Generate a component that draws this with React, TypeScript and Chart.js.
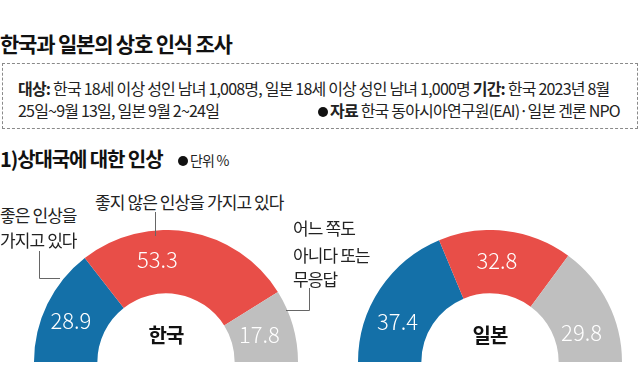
import React, { useEffect, useRef } from "react";
import { Chart, registerables } from "chart.js";

Chart.register(...registerables);

// ---- data ----
const categories = ["좋은 인상을 가지고 있다", "좋지 않은 인상을 가지고 있다", "어느 쪽도 아니다 또는 무응답"];
const koreaValues = [28.9, 53.3, 17.8];
const japanValues = [37.4, 32.8, 29.8];
const countryNames = ["한국", "일본"];

const title = "한국과 일본의 상호 인식 조사";
const subtitle = "1)상대국에 대한 인상";
const unitNote = "단위 %";

// ---- style ----
const segColors = ["#1470a8", "#e84e48", "#bfbfbf"];
const KR_FONT = '"Noto Sans CJK KR", "Noto Sans", sans-serif';

const valueLabelPlugin = {
  id: "valueLabels",
  afterDatasetsDraw(chart: any, _args: any, opts: any) {
    const ctx = chart.ctx;
    const meta = chart.getDatasetMeta(0);
    const data = chart.data.datasets[0].data;
    ctx.save();
    ctx.font = `300 22px ${KR_FONT}`;
    ctx.fillStyle = "#ffffff";
    ctx.textAlign = "center";
    ctx.textBaseline = "middle";
    meta.data.forEach((arc: any, i: number) => {
      const p = arc.tooltipPosition(true);
      const n = (opts.nudges && opts.nudges[i]) || [0, 0];
      ctx.fillText(Number(data[i]).toFixed(1), p.x + n[0], p.y + n[1]);
    });
    ctx.restore();
  },
};

function Gauge({ values, left, top, size, nudges }: any) {
  const ref = useRef<HTMLCanvasElement>(null);
  useEffect(() => {
    if (!ref.current) return;
    const chart = new Chart(ref.current, {
      type: "doughnut",
      data: {
        labels: categories,
        datasets: [
          {
            data: values,
            backgroundColor: segColors,
            borderWidth: 0,
          },
        ],
      },
      options: {
        responsive: false,
        maintainAspectRatio: false,
        animation: false,
        rotation: -90,
        circumference: 180,
        cutout: "52%",
        layout: { padding: 0 },
        plugins: {
          legend: { display: false },
          tooltip: { enabled: false },
          valueLabels: { nudges },
        } as any,
      },
      plugins: [valueLabelPlugin as any],
    });
    return () => chart.destroy();
  }, []);
  return (
    <canvas
      ref={ref}
      width={size * 2}
      height={size}
      style={{ position: "absolute", left, top, width: size * 2, height: size }}
    />
  );
}

const abs = (x: number, y: number, extra: any = {}) => ({
  position: "absolute" as const,
  left: x,
  top: y,
  whiteSpace: "nowrap" as const,
  fontFamily: KR_FONT,
  ...extra,
});

const Dot = ({ size }: { size: number }) => (
  <span
    style={{
      display: "inline-block",
      width: size,
      height: size,
      borderRadius: "50%",
      background: "#111",
      marginRight: 2,
      verticalAlign: "middle",
      position: "relative",
      top: -1,
    }}
  />
);

export default function App() {
  const R = 132;
  const cy = 362;
  const krCx = 166;
  const jpCx = 490;
  const labelStyle = { fontSize: 17, letterSpacing: -0.9, color: "#222", lineHeight: "22px" };
  const boxText = { fontSize: 16, letterSpacing: -0.8, color: "#222", lineHeight: "22px" };
  return (
    <div
      style={{
        position: "absolute",
        left: 0,
        top: 0,
        width: 640,
        height: 365,
        background: "#fff",
        overflow: "hidden",
        fontFamily: KR_FONT,
      }}
    >
      <div style={abs(0, 29, { fontSize: 21, fontWeight: 700, letterSpacing: -1.2, color: "#111", lineHeight: "28px" })}>{title}</div>
      <div
        style={{
          position: "absolute",
          left: 2,
          top: 63,
          width: 634,
          height: 64,
          border: "1px dashed #8a8a8a",
        }}
      />
      <div style={abs(18, 77, boxText)}>
        <b>대상:</b> 한국 18세 이상 성인 남녀 1,008명, 일본 18세 이상 성인 남녀 1,000명 <b>기간:</b> 한국 2023년 8월
      </div>
      <div style={abs(18, 99, boxText)}>
        25일~9월 13일, 일본 9월 2~24일
      </div>
      <div style={abs(318, 99, { ...boxText, width: 300, textAlign: "right" })}>
        <Dot size={10} />
        <b>자료</b> 한국 동아시아연구원(EAI)·일본 겐론 NPO
      </div>

      <div style={abs(0, 146, { fontSize: 20, fontWeight: 700, letterSpacing: -1.1, color: "#111", lineHeight: "26px" })}>{subtitle}</div>
      <div style={abs(178, 151, { fontSize: 14, letterSpacing: -0.8, color: "#222", lineHeight: "18px" })}>
        <Dot size={10} />
        {unitNote}
      </div>

      <Gauge values={koreaValues} left={krCx - R} top={cy - R} size={R} nudges={[[-5, 3], [-26, -4], [-3, 0]]} />
      <Gauge values={japanValues} left={jpCx - R} top={cy - R} size={R} nudges={[[-9, 15], [-5, -2], [2, 16]]} />

      <div style={abs(krCx - 40, 323, { width: 80, textAlign: "center", fontSize: 20, fontWeight: 700, letterSpacing: -1, color: "#111", lineHeight: "24px" })}>
        {countryNames[0]}
      </div>
      <div style={abs(jpCx - 40, 323, { width: 80, textAlign: "center", fontSize: 20, fontWeight: 700, letterSpacing: -1, color: "#111", lineHeight: "24px" })}>
        {countryNames[1]}
      </div>

      {/* category labels */}
      <div style={abs(0, 204, labelStyle)}>좋은 인상을</div>
      <div style={abs(0, 229, labelStyle)}>가지고 있다</div>
      <div style={abs(95, 191, labelStyle)}>{categories[1]}</div>
      <div style={abs(293, 217, labelStyle)}>어느 쪽도</div>
      <div style={abs(293, 244, labelStyle)}>아니다 또는</div>
      <div style={abs(293, 268, labelStyle)}>무응답</div>

      <svg width={640} height={365} style={{ position: "absolute", left: 0, top: 0 }}>
        <polyline points="39.5,251 39.5,278.5 60,278.5" fill="none" stroke="#666" strokeWidth={1} />
        <polyline points="155.5,212 155.5,236" fill="none" stroke="#666" strokeWidth={1} />
        <polyline points="309.5,288 309.5,310.5 286,310.5" fill="none" stroke="#666" strokeWidth={1} />
      </svg>
    </div>
  );
}
